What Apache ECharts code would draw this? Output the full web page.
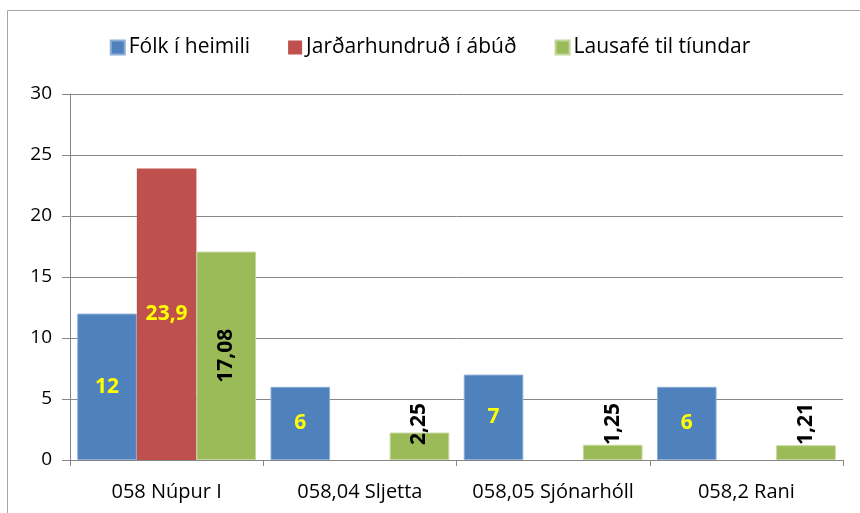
<!DOCTYPE html>
<html>
<head>
<meta charset="utf-8">
<script src="https://cdn.jsdelivr.net/npm/echarts@6/dist/echarts.min.js"></script>
<style>
  html, body { margin: 0; padding: 0; background: #fff; }
  #chart { width: 860px; height: 513px; }
</style>
</head>
<body>
<div id="chart"></div>
<script>
const categories = ["058 Núpur I", "058,04 Sljetta", "058,05 Sjónarhóll", "058,2 Rani"];
const seriesNames = ["Fólk í heimili", "Jarðarhundruð í ábúð", "Lausafé til tíundar"];
const folk = [12, 6, 7, 6];
const jord = [23.9, null, null, null];
const lausafe = [17.08, 2.25, 1.25, 1.21];
const yTicks = [0, 5, 10, 15, 20, 25, 30];

const FONT = "'Open Sans', 'Liberation Sans', sans-serif";
const fmt = v => String(v).replace(".", ",");

const chart = echarts.init(document.getElementById("chart"));

// grænu merkin: miðjuð ef súlan er há, annars neðst og upp á við
const greenData = lausafe.map(v => ({
  value: v,
  label: v >= 5
    ? { position: "inside", rotate: 90 }
    : { position: "insideBottom", rotate: 90, distance: 15, align: "left", verticalAlign: "middle" }
}));

chart.setOption({
  animation: false,
  textStyle: { fontFamily: FONT },
  color: ["#4f81bd", "#c0504d", "#9bbb59"],
  graphic: [{
    type: "rect",
    shape: { x: 7.5, y: 10.5, width: 900, height: 600 },
    style: { fill: "none", stroke: "#a6a6a6", lineWidth: 1 },
    silent: true
  }],
  legend: {
    top: 32,
    left: "center",
    itemWidth: 14,
    itemHeight: 14,
    itemGap: 38,
    icon: "rect",
    textStyle: { fontSize: 21, color: "#000", fontFamily: FONT, padding: [0, 0, 0, -1] },
    data: seriesNames
  },
  grid: { left: 70, right: 17, top: 94, bottom: 53 },
  xAxis: {
    type: "category",
    data: categories,
    axisLine: { lineStyle: { color: "#868686" } },
    axisTick: { show: true, interval: 0, length: 6, lineStyle: { color: "#868686" } },
    axisLabel: { interval: 0, hideOverlap: false, fontSize: 20, color: "#000", margin: 22, fontFamily: FONT }
  },
  yAxis: {
    type: "value",
    min: 0,
    max: 30,
    interval: 5,
    axisLine: { show: true, lineStyle: { color: "#868686" } },
    axisTick: { show: true, length: 8, lineStyle: { color: "#868686" } },
    axisLabel: {
      fontSize: 19, color: "#000", margin: 18, fontFamily: FONT,
      formatter: v => yTicks.includes(v) ? String(v) : ""
    },
    splitLine: { lineStyle: { color: "#868686" } }
  },
  series: [
    {
      name: seriesNames[0], type: "bar", data: folk,
      barGap: "0%", barCategoryGap: "7.5%",
      itemStyle: { borderColor: "#8eaed6", borderWidth: 1 },
      label: { show: true, position: "inside", color: "#ffff00", fontWeight: "bold", fontSize: 21, formatter: p => fmt(p.value) }
    },
    {
      name: seriesNames[1], type: "bar", data: jord,
      barGap: "0%", barCategoryGap: "7.5%",
      label: { show: true, position: "inside", color: "#ffff00", fontWeight: "bold", fontSize: 21, formatter: p => fmt(p.value) }
    },
    {
      name: seriesNames[2], type: "bar", data: greenData,
      barGap: "0%", barCategoryGap: "7.5%",
      itemStyle: { borderColor: "#c3d69b", borderWidth: 1 },
      label: { show: true, color: "#000", fontWeight: "bold", fontSize: 21, formatter: p => fmt(p.value) }
    }
  ]
});
</script>
</body>
</html>
